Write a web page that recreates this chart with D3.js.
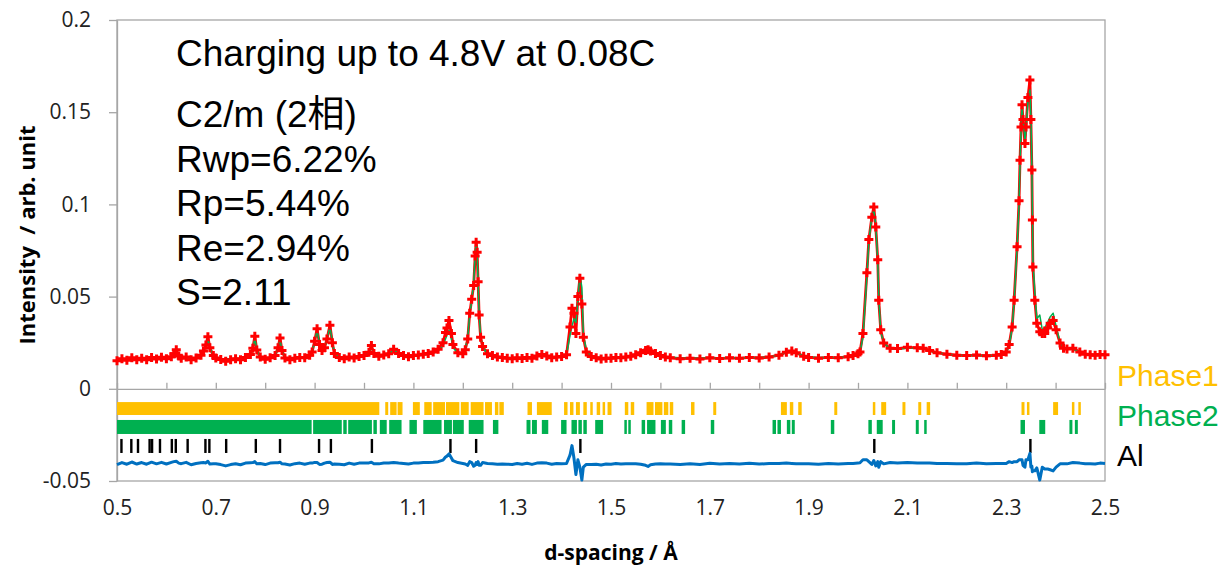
<!DOCTYPE html>
<html>
<head>
<meta charset="utf-8">
<script src="https://cdn.jsdelivr.net/npm/d3@7"></script>
<style>
body { margin: 0; background: #fff; }
svg { display: block; }
</style>
</head>
<body>
<svg id="visualization" width="1225" height="568"></svg>
<script>
// profile: d-spacing (Å), observed and calculated intensity
var dSpacing = [
  0.50,0.51,0.52,0.53,0.54,0.55,0.56,0.57,0.58,0.59,
  0.60,0.61,0.615,0.62,0.625,0.63,0.64,0.65,0.66,0.67,
  0.675,0.68,0.684,0.688,0.695,0.70,0.71,0.72,0.73,0.74,
  0.75,0.76,0.77,0.775,0.779,0.783,0.79,0.80,0.81,0.82,
  0.826,0.83,0.834,0.84,0.85,0.86,0.87,0.88,0.89,0.895,
  0.90,0.905,0.91,0.915,0.92,0.925,0.931,0.936,0.94,0.95,
  0.96,0.97,0.98,0.99,1.00,1.01,1.015,1.02,1.03,1.04,
  1.05,1.06,1.07,1.08,1.09,1.10,1.11,1.12,1.13,1.14,
  1.15,1.16,1.165,1.168,1.172,1.177,1.18,1.19,1.20,1.205,
  1.21,1.214,1.218,1.222,1.225,1.227,1.229,1.231,1.233,1.236,
  1.24,1.25,1.26,1.27,1.28,1.29,1.30,1.31,1.32,1.33,
  1.34,1.35,1.36,1.37,1.38,1.39,1.40,1.41,1.417,1.421,
  1.425,1.429,1.433,1.437,1.441,1.444,1.45,1.46,1.47,1.48,
  1.49,1.50,1.51,1.52,1.53,1.54,1.55,1.56,1.57,1.575,
  1.58,1.59,1.60,1.61,1.62,1.64,1.66,1.68,1.70,1.72,
  1.74,1.76,1.78,1.80,1.82,1.84,1.855,1.866,1.875,1.89,
  1.90,1.92,1.94,1.96,1.98,1.99,2.00,2.004,2.010,2.018,
  2.022,2.028,2.032,2.036,2.040,2.042,2.046,2.052,2.065,2.08,
  2.10,2.12,2.132,2.145,2.16,2.18,2.20,2.22,2.24,2.26,
  2.28,2.29,2.30,2.306,2.312,2.316,2.322,2.326,2.328,2.330,
  2.332,2.334,2.338,2.340,2.344,2.348,2.350,2.352,2.353,2.354,
  2.358,2.362,2.368,2.373,2.378,2.384,2.389,2.395,2.401,2.409,
  2.416,2.423,2.435,2.449,2.46,2.47,2.48,2.49,2.50
];
var observed = [
  0.0152,0.0163,0.0155,0.0168,0.0157,0.0166,0.0158,0.0170,0.0162,0.0171,
  0.0163,0.0174,0.0190,0.0212,0.0178,0.0166,0.0172,0.0158,0.0167,0.0182,
  0.0205,0.0238,0.0282,0.0222,0.0180,0.0167,0.0159,0.0150,0.0157,0.0163,
  0.0158,0.0170,0.0186,0.0220,0.0285,0.0210,0.0172,0.0160,0.0168,0.0180,
  0.0222,0.0275,0.0208,0.0167,0.0158,0.0165,0.0170,0.0168,0.0182,0.0200,
  0.0258,0.0325,0.0240,0.0208,0.0222,0.0270,0.0345,0.0250,0.0192,0.0170,
  0.0163,0.0172,0.0167,0.0175,0.0180,0.0198,0.0235,0.0192,0.0176,0.0183,
  0.0190,0.0215,0.0192,0.0180,0.0174,0.0180,0.0183,0.0188,0.0192,0.0200,
  0.0215,0.0250,0.0305,0.0330,0.0370,0.0300,0.0240,0.0195,0.0190,0.0212,
  0.0270,0.0410,0.0485,0.0560,0.0720,0.0795,0.0740,0.0580,0.0400,0.0280,
  0.0230,0.0190,0.0180,0.0172,0.0170,0.0166,0.0163,0.0168,0.0164,0.0170,
  0.0166,0.0178,0.0186,0.0178,0.0168,0.0172,0.0175,0.0185,0.0335,0.0437,
  0.0410,0.0300,0.0500,0.0600,0.0460,0.0280,0.0200,0.0175,0.0168,0.0162,
  0.0166,0.0165,0.0170,0.0168,0.0172,0.0176,0.0185,0.0196,0.0208,0.0212,
  0.0205,0.0192,0.0180,0.0172,0.0168,0.0163,0.0166,0.0162,0.0168,0.0164,
  0.0168,0.0165,0.0170,0.0167,0.0172,0.0182,0.0198,0.0205,0.0196,0.0176,
  0.0170,0.0166,0.0170,0.0168,0.0174,0.0180,0.0190,0.0200,0.0300,0.0630,
  0.0810,0.0930,0.0986,0.0877,0.0700,0.0480,0.0320,0.0248,0.0220,0.0218,
  0.0225,0.0222,0.0220,0.0208,0.0195,0.0188,0.0182,0.0180,0.0183,0.0179,
  0.0182,0.0186,0.0200,0.0240,0.0335,0.0480,0.0770,0.1020,0.1240,0.1420,
  0.1540,0.1460,0.1330,0.1420,0.1580,0.1675,0.1460,0.1186,0.0915,0.0660,
  0.0480,0.0356,0.0310,0.0300,0.0300,0.0330,0.0356,0.0370,0.0320,0.0248,
  0.0220,0.0216,0.0220,0.0200,0.0188,0.0185,0.0182,0.0186,0.0184
];
var calculated = [
  0.0158,0.0158,0.0159,0.0160,0.0160,0.0161,0.0162,0.0163,0.0164,0.0165,
  0.0166,0.0168,0.0180,0.0200,0.0176,0.0167,0.0166,0.0165,0.0167,0.0178,
  0.0200,0.0235,0.0270,0.0225,0.0182,0.0168,0.0165,0.0163,0.0163,0.0164,
  0.0165,0.0168,0.0182,0.0215,0.0275,0.0212,0.0172,0.0166,0.0166,0.0176,
  0.0218,0.0268,0.0210,0.0170,0.0166,0.0166,0.0168,0.0172,0.0180,0.0198,
  0.0252,0.0320,0.0245,0.0212,0.0220,0.0265,0.0338,0.0255,0.0195,0.0174,
  0.0170,0.0170,0.0171,0.0173,0.0178,0.0195,0.0228,0.0193,0.0178,0.0180,
  0.0188,0.0210,0.0190,0.0180,0.0177,0.0178,0.0180,0.0183,0.0187,0.0193,
  0.0205,0.0232,0.0270,0.0290,0.0318,0.0270,0.0225,0.0190,0.0190,0.0215,
  0.0280,0.0400,0.0480,0.0575,0.0730,0.0790,0.0745,0.0570,0.0410,0.0290,
  0.0225,0.0190,0.0182,0.0176,0.0173,0.0170,0.0168,0.0168,0.0168,0.0169,
  0.0171,0.0176,0.0182,0.0176,0.0172,0.0172,0.0176,0.0185,0.0290,0.0340,
  0.0380,0.0360,0.0480,0.0620,0.0550,0.0300,0.0205,0.0180,0.0172,0.0170,
  0.0169,0.0169,0.0170,0.0171,0.0173,0.0177,0.0186,0.0200,0.0218,0.0228,
  0.0212,0.0195,0.0182,0.0175,0.0171,0.0168,0.0167,0.0167,0.0167,0.0167,
  0.0168,0.0168,0.0169,0.0170,0.0172,0.0182,0.0196,0.0205,0.0198,0.0178,
  0.0172,0.0170,0.0170,0.0171,0.0174,0.0180,0.0188,0.0196,0.0280,0.0610,
  0.0800,0.0935,0.0970,0.0890,0.0690,0.0500,0.0310,0.0250,0.0215,0.0215,
  0.0220,0.0220,0.0218,0.0205,0.0195,0.0188,0.0183,0.0182,0.0181,0.0181,
  0.0182,0.0186,0.0200,0.0230,0.0330,0.0470,0.0760,0.1000,0.1220,0.1400,
  0.1520,0.1470,0.1350,0.1400,0.1560,0.1620,0.1480,0.1200,0.0960,0.0700,
  0.0520,0.0380,0.0400,0.0320,0.0330,0.0360,0.0390,0.0410,0.0340,0.0250,
  0.0222,0.0218,0.0215,0.0198,0.0190,0.0187,0.0185,0.0184,0.0184
];
var diffOffset = -0.0405;

// reflection marks, [start, end] in d-spacing
var phase1Marks = [
  [0.500,1.031],[1.043,1.049],[1.053,1.066],[1.068,1.078],[1.099,1.113],[1.122,1.137],
  [1.140,1.164],[1.166,1.193],[1.196,1.212],[1.216,1.242],[1.245,1.259],[1.265,1.272],
  [1.274,1.283],[1.331,1.340],[1.350,1.380],[1.405,1.412],[1.417,1.424],[1.429,1.437],
  [1.444,1.451],[1.458,1.463],[1.471,1.478],[1.483,1.488],[1.493,1.501],[1.528,1.535],
  [1.540,1.547],[1.572,1.586],[1.589,1.604],[1.607,1.616],[1.619,1.626],[1.662,1.669],
  [1.707,1.713],[1.844,1.856],[1.862,1.869],[1.879,1.886],[1.952,1.958],[2.030,2.035],
  [2.047,2.057],[2.090,2.096],[2.122,2.128],[2.139,2.146],[2.331,2.337],[2.342,2.347],
  [2.395,2.405],[2.433,2.438],[2.446,2.451]
];
var phase2Marks = [
  [0.500,0.894],[0.897,0.955],[0.958,0.965],[0.968,1.016],[1.019,1.026],[1.032,1.046],
  [1.051,1.076],[1.092,1.107],[1.120,1.157],[1.162,1.178],[1.180,1.202],[1.212,1.242],
  [1.261,1.272],[1.329,1.337],[1.340,1.350],[1.360,1.373],[1.399,1.410],[1.420,1.431],
  [1.434,1.441],[1.444,1.451],[1.468,1.484],[1.527,1.532],[1.535,1.540],[1.562,1.569],
  [1.573,1.590],[1.601,1.611],[1.617,1.624],[1.643,1.650],[1.702,1.709],[1.827,1.834],
  [1.837,1.844],[1.856,1.863],[1.866,1.872],[1.945,1.952],[2.021,2.028],[2.038,2.050],
  [2.069,2.075],[2.117,2.123],[2.134,2.139],[2.329,2.338],[2.367,2.379],[2.428,2.434],
  [2.439,2.445]
];
var alMarks = [
  0.509,0.529,0.5425,0.566,0.571,0.587,0.611,0.619,0.643,0.679,0.687,0.721,
  0.781,0.830,0.909,0.933,1.016,1.175,1.227,1.438,2.033,2.349
];

var xTickValues = [0.5,0.6,0.7,0.8,0.9,1.0,1.1,1.2,1.3,1.4,1.5,1.6,1.7,1.8,1.9,2.0,2.1,2.2,2.3,2.4,2.5];
var xLabelValues = [0.5,0.7,0.9,1.1,1.3,1.5,1.7,1.9,2.1,2.3,2.5];
var xLabels = ["0.5","0.7","0.9","1.1","1.3","1.5","1.7","1.9","2.1","2.3","2.5"];
var yTickValues = [-0.05,0,0.05,0.1,0.15,0.2];
var yLabels = ["-0.05","0","0.05","0.1","0.15","0.2"];

var titleText = "Charging up to 4.8V at 0.08C";
var statLines = ["C2/m (2相)", "Rwp=6.22%", "Rp=5.44%", "Re=2.94%", "S=2.11"];
var legendNames = ["Phase1", "Phase2", "Al"];
var legendColors = ["#ffc000", "#00b050", "#000000"];

var vis = d3.select("#visualization");
var MARGINS = { top: 20, right: 120, bottom: 87, left: 117 };
var WIDTH = 1225 - MARGINS.left - MARGINS.right;   // 988
var HEIGHT = 568 - MARGINS.top - MARGINS.bottom;   // 461

var x = d3.scaleLinear().domain([0.5, 2.5]).range([MARGINS.left, MARGINS.left + WIDTH]);
var y = d3.scaleLinear().domain([-0.05, 0.2]).range([MARGINS.top + HEIGHT, MARGINS.top]);

var axisFont = "'Open Sans', 'DejaVu Sans', sans-serif";
var textFont = "'Liberation Sans', Arial, 'Noto Sans CJK JP', sans-serif";

// plot frame
vis.append("rect")
  .attr("x", x(0.5)).attr("y", y(0.2))
  .attr("width", x(2.5) - x(0.5)).attr("height", y(-0.05) - y(0.2))
  .attr("fill", "none").attr("stroke", "#a6a6a6").attr("stroke-width", 1.3);

// x axis on the zero line, minor ticks pointing up
var xAxis = vis.append("g")
  .attr("transform", "translate(0," + y(0) + ")")
  .call(d3.axisTop(x).tickValues(xTickValues).tickSize(6).tickSizeOuter(0).tickFormat(""));
xAxis.selectAll("path, line").attr("stroke", "#a6a6a6").attr("stroke-width", 1.3);

// x labels along the bottom
var xLab = vis.append("g")
  .attr("transform", "translate(0," + (y(-0.05) + 16) + ")")
  .call(d3.axisBottom(x).tickValues(xLabelValues).tickSize(0)
    .tickFormat(function (d, i) { return xLabels[i]; }));
xLab.select(".domain").remove();
xLab.selectAll("text").attr("font-family", axisFont).attr("font-size", 21).attr("fill", "#222");

// y axis
var yAxis = vis.append("g")
  .attr("transform", "translate(" + x(0.5) + ",0)")
  .call(d3.axisLeft(y).tickValues(yTickValues).tickSize(8).tickSizeOuter(0).tickPadding(18)
    .tickFormat(function (d, i) { return yLabels[i]; }));
yAxis.selectAll("path, line").attr("stroke", "#a6a6a6").attr("stroke-width", 1.3);
yAxis.selectAll("text").attr("font-family", axisFont).attr("font-size", 21).attr("fill", "#222");

// axis titles
vis.append("text")
  .attr("x", (x(0.5) + x(2.5)) / 2).attr("y", 560)
  .attr("text-anchor", "middle")
  .attr("font-family", axisFont).attr("font-weight", "bold").attr("font-size", 21)
  .text("d-spacing / Å");
vis.append("text")
  .attr("transform", "translate(35,235) rotate(-90)")
  .attr("text-anchor", "middle")
  .style("white-space", "pre")
  .attr("font-family", axisFont).attr("font-weight", "bold").attr("font-size", 22)
  .text("Intensity  / arb. unit");

// reflection marks
function drawMarks(marks, top, bottom, color) {
  vis.append("g").selectAll("rect").data(marks).enter().append("rect")
    .attr("x", function (m) { return x(m[0]); })
    .attr("width", function (m) { return Math.max(2.5, x(m[1]) - x(m[0])); })
    .attr("y", y(top))
    .attr("height", y(bottom) - y(top))
    .attr("fill", color);
}
drawMarks(phase1Marks, -0.0072, -0.0142, "#ffc000");
drawMarks(phase2Marks, -0.0169, -0.0245, "#00b050");
vis.append("g").selectAll("rect").data(alMarks).enter().append("rect")
  .attr("x", function (d) { return x(d) - 1.2; })
  .attr("width", 2.4)
  .attr("y", y(-0.0272))
  .attr("height", y(-0.0348) - y(-0.0272))
  .attr("fill", "#000");

// difference curve
var diffLine = d3.line()
  .x(function (d, i) { return x(dSpacing[i]); })
  .y(function (d, i) { return y(observed[i] - calculated[i] + diffOffset); });
vis.append("path").datum(dSpacing).attr("d", diffLine)
  .attr("fill", "none").attr("stroke", "#0070c0").attr("stroke-width", 3)
  .attr("stroke-linejoin", "round");

// observed band
var obsLine = d3.line()
  .x(function (d, i) { return x(dSpacing[i]); })
  .y(function (d, i) { return y(observed[i]); });
vis.append("path").datum(dSpacing).attr("d", obsLine)
  .attr("fill", "none").attr("stroke", "#ff0000").attr("stroke-width", 2.8)
  .attr("stroke-linejoin", "round");

// calculated, thin line over the band
var calcLine = d3.line()
  .x(function (d, i) { return x(dSpacing[i]); })
  .y(function (d, i) { return y(calculated[i]); });
vis.append("path").datum(dSpacing).attr("d", calcLine)
  .attr("fill", "none").attr("stroke", "#00b050").attr("stroke-width", 1.5)
  .attr("stroke-linejoin", "round");

// observed markers
var cross = d3.symbol().type(d3.symbolCross).size(45);
vis.append("g").selectAll("path").data(dSpacing).enter().append("path")
  .attr("d", cross)
  .attr("transform", function (d, i) { return "translate(" + x(d) + "," + y(observed[i]) + ")"; })
  .attr("fill", "#ff0000");

// annotation block
vis.append("text")
  .attr("x", 176).attr("y", 66)
  .attr("font-family", textFont).attr("font-size", 37).attr("fill", "#000")
  .text(titleText);
statLines.forEach(function (line, i) {
  vis.append("text")
    .attr("x", 176).attr("y", 127 + i * 44.5)
    .attr("font-family", textFont).attr("font-size", 37).attr("fill", "#000")
    .text(line);
});

// legend labels on the right
legendNames.forEach(function (name, i) {
  vis.append("text")
    .attr("x", 1117).attr("y", 386 + i * 40)
    .attr("font-family", textFont).attr("font-size", 30)
    .attr("fill", legendColors[i])
    .text(name);
});
</script>
</body>
</html>
